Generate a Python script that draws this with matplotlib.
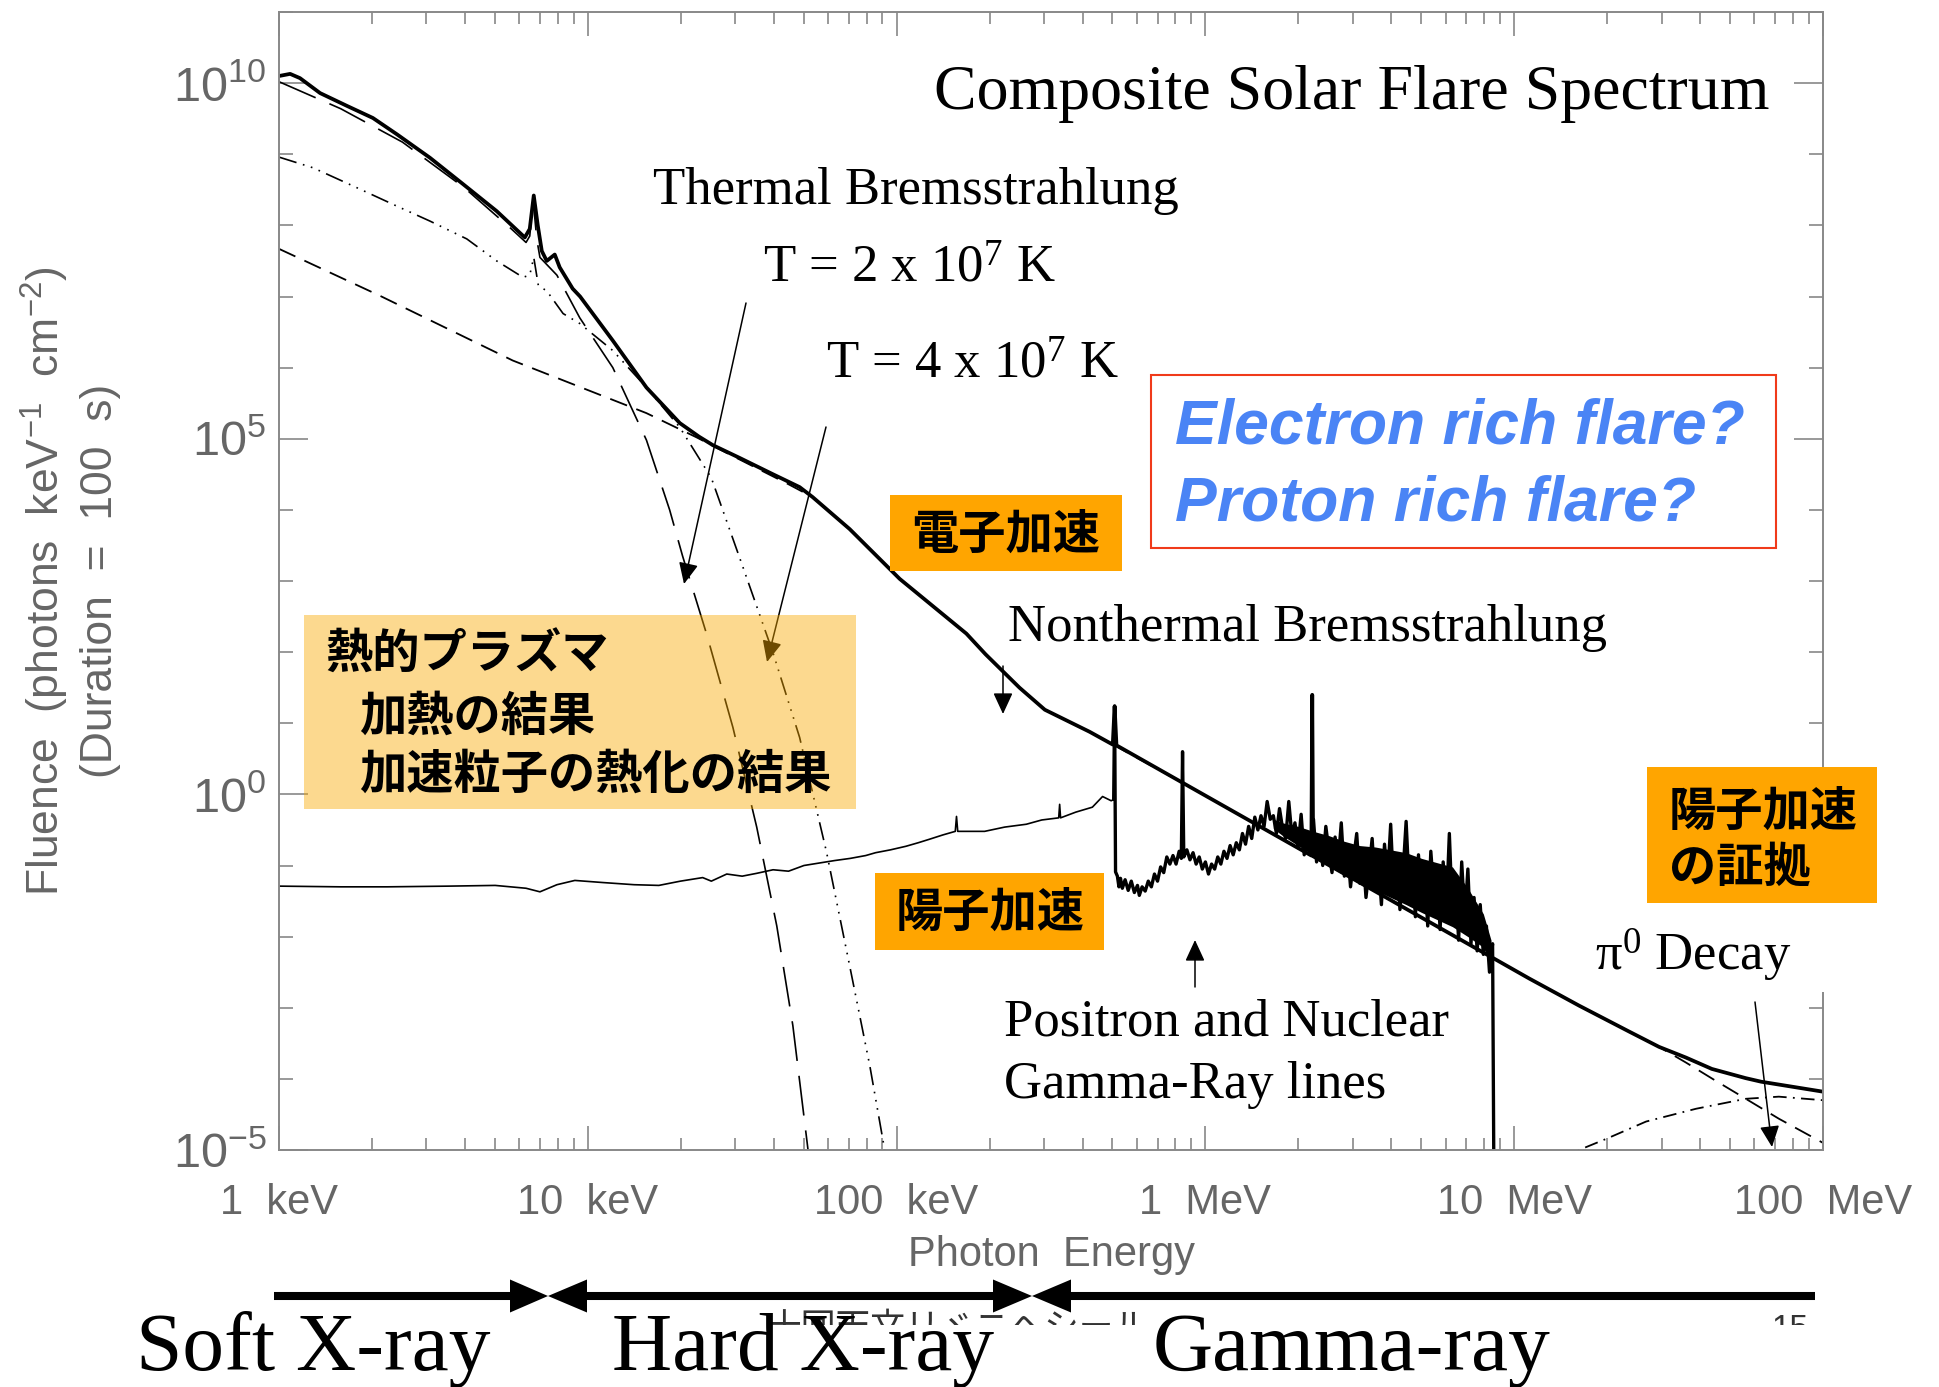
import numpy as np
import matplotlib
matplotlib.use('Agg')
import matplotlib.pyplot as plt
from matplotlib.patches import Rectangle, Polygon, FancyArrowPatch
from matplotlib.lines import Line2D
from matplotlib.ticker import FixedLocator, FixedFormatter, LogLocator, NullFormatter

plt.rcParams['mathtext.default'] = 'regular'

# all curves as log10(E / keV), log10(fluence)
total_logE = [0.0, 0.036, 0.068, 0.133, 0.22, 0.304, 0.382, 0.489, 0.596, 0.705, 0.796, 0.812, 0.825, 0.838,
              0.851, 0.867, 0.893, 0.909, 0.951, 0.975, 1.081, 1.19, 1.298, 1.36, 1.405, 1.492, 1.60, 1.686, 1.728,
              1.848, 2.01, 2.226, 2.288, 2.398, 2.48, 2.625, 2.700, 2.706, 2.712, 2.948, 3.343, 3.346, 3.349,
              3.919, 4.049, 4.155, 4.21, 4.37, 4.469, 4.556, 4.64, 4.75, 4.80, 4.90, 5.0]
total_logF = [10.10, 10.13, 10.07, 9.86, 9.68, 9.51, 9.28, 8.95, 8.58, 8.20, 7.83, 7.95, 8.42, 8.00,
              7.64, 7.50, 7.59, 7.41, 7.11, 7.00, 6.38, 5.72, 5.22, 5.03, 4.91, 4.73, 4.50, 4.32, 4.18,
              3.73, 3.03, 2.26, 1.97, 1.50, 1.19, 0.88, 0.70, 1.24, 0.69, 0.11, -0.86, 1.40, -0.87,
              -2.27, -2.59, -2.84, -2.97, -3.33, -3.55, -3.70, -3.86, -3.99, -4.04, -4.11, -4.18]

# thermal, T = 2e7 K
t2_logE = [0.0, 0.2, 0.4, 0.6, 0.75, 0.8, 0.812, 0.823, 0.835, 0.845, 0.9, 0.974, 1.081, 1.19, 1.265,
           1.307, 1.385, 1.47, 1.547, 1.612, 1.664, 1.709, 1.73]
t2_logF = [10.02, 9.64, 9.17, 8.53, 7.96, 7.76, 7.85, 8.35, 7.80, 7.55, 7.30, 6.70, 6.0, 4.98, 4.0,
           3.35, 2.25, 0.94, -0.46, -1.85, -3.25, -4.85, -5.6]

# thermal, T = 4e7 K
t4_logE = [0.0, 0.11, 0.252, 0.382, 0.489, 0.608, 0.705, 0.79, 0.812, 0.825, 0.84, 0.867, 0.92, 0.974,
           1.081, 1.19, 1.298, 1.40, 1.502, 1.599, 1.686, 1.773, 1.848, 1.913, 1.961, 1.98]
t4_logF = [8.96, 8.81, 8.53, 8.27, 8.06, 7.81, 7.50, 7.27, 7.30, 7.55, 7.15, 7.08, 6.76, 6.62,
           6.24, 5.72, 5.16, 4.45, 3.20, 2.00, 0.80, -0.81, -2.41, -3.81, -4.99, -5.5]

# nonthermal bremsstrahlung
nt_logE = [0.0, 0.327, 0.757, 1.19, 1.352, 1.45, 1.55, 1.65, 1.728, 1.848, 2.01, 2.226, 2.288, 2.398,
           2.48, 2.625, 2.948, 3.346, 3.919, 4.049, 4.155, 4.21, 4.37, 4.469, 4.556, 4.65, 4.75, 4.857, 5.0]
nt_logF = [7.67, 7.01, 6.10, 5.36, 5.02, 4.80, 4.58, 4.36, 4.18, 3.73, 3.03, 2.26, 1.97, 1.50,
           1.19, 0.88, 0.11, -0.87, -2.27, -2.59, -2.84, -2.97, -3.33, -3.55, -3.77, -4.02, -4.28, -4.56, -4.90]

# pi0 decay
pi_logE = [4.15, 4.21, 4.30, 4.427, 4.589, 4.75, 4.857, 5.0]
pi_logF = [-5.15, -5.0, -4.84, -4.60, -4.42, -4.28, -4.25, -4.30]

# proton component below the 511 keV line
nucl_logE = [0.0, 0.2, 0.35, 0.55, 0.70, 0.80, 0.845, 0.90, 0.958, 1.05, 1.15, 1.23, 1.30, 1.372, 1.40,
             1.45, 1.50, 1.547, 1.60, 1.65, 1.70, 1.757, 1.80, 1.85, 1.90, 1.932, 1.98, 2.03, 2.07, 2.107,
             2.15, 2.19, 2.194, 2.198, 2.25, 2.285, 2.35, 2.42, 2.47, 2.525, 2.528, 2.531, 2.58, 2.634,
             2.667, 2.695, 2.703]
nucl_logF = [-1.29, -1.30, -1.30, -1.29, -1.28, -1.32, -1.37, -1.27, -1.21, -1.24, -1.27, -1.28, -1.22, -1.17, -1.22,
             -1.12, -1.15, -1.11, -1.06, -1.08, -1.00, -0.96, -0.93, -0.90, -0.86, -0.82, -0.78, -0.73, -0.68, -0.63,
             -0.57, -0.52, -0.31, -0.52, -0.52, -0.52, -0.46, -0.42, -0.36, -0.33, -0.14, -0.33, -0.25, -0.18,
             -0.03, -0.09, -0.07]

# positron and nuclear gamma-ray lines
nuch_logE = [2.703, 2.706, 2.709,
             2.715, 2.72, 2.725, 2.731, 2.74, 2.75, 2.76, 2.77, 2.78, 2.786, 2.795, 2.805, 2.815, 2.825,
             2.835, 2.845, 2.855, 2.865, 2.875, 2.885, 2.895, 2.905, 2.915, 2.922, 2.926, 2.93, 2.94, 2.95,
             2.96, 2.97, 2.98, 2.99, 3.0, 3.01, 3.02, 3.03, 3.04, 3.05, 3.06, 3.07, 3.08, 3.09, 3.10, 3.11,
             3.12, 3.13, 3.14, 3.15, 3.16, 3.17, 3.18, 3.19, 3.20, 3.21,
             3.22, 3.23, 3.24, 3.25, 3.26, 3.27, 3.28, 3.29, 3.30, 3.31, 3.32, 3.33, 3.34, 3.35, 3.36,
             3.37, 3.38, 3.39, 3.40, 3.41, 3.42, 3.43, 3.44, 3.45, 3.46, 3.47, 3.48, 3.49, 3.50, 3.51,
             3.52, 3.53, 3.54, 3.55, 3.56, 3.57, 3.58, 3.59, 3.60, 3.61, 3.62, 3.63, 3.64, 3.65, 3.66,
             3.67, 3.68, 3.69, 3.70, 3.71, 3.72, 3.73, 3.74, 3.75, 3.76, 3.77, 3.78, 3.79, 3.80, 3.81,
             3.82, 3.83, 3.84, 3.85, 3.86, 3.87, 3.88, 3.89, 3.90, 3.91, 3.92, 3.93, 3.935]
nuch_logF = [-0.07, 1.24, -1.09,
             -1.15, -1.30, -1.18, -1.32, -1.20, -1.35, -1.22, -1.38, -1.28, -1.42, -1.30, -1.36, -1.22, -1.30,
             -1.12, -1.22, -1.02, -1.10, -0.88, -0.98, -0.86, -0.98, -0.80, -0.90, 0.60, -0.88, -0.78, -0.92,
             -0.82, -0.98, -0.88, -1.05, -0.95, -1.12, -0.98, -1.05, -0.88, -0.98, -0.80, -0.90, -0.72, -0.85, -0.68, -0.78,
             -0.55, -0.70, -0.45, -0.62, -0.32, -0.50, -0.30, -0.45, -0.10, -0.35,
             -0.30, -0.55, -0.20, -0.48, -0.62, -0.10, -0.58, -0.40, -0.75, -0.28, -0.85, -0.55, -0.70, -0.35, -0.95,
             -0.62, -1.00, -0.45, -0.80, -1.10, -0.60, -0.95, -0.40, -1.15, -0.75, -1.30, -0.90, -0.55, -1.25, -0.80,
             -1.45, -1.05, -0.62, -1.35, -0.95, -1.55, -0.70, -1.20, -0.42, -1.40, -0.88, -1.62, -1.10, -0.38, -1.30,
             -0.90, -1.72, -0.85, -1.50, -1.10, -1.85, -0.80, -1.40, -1.05, -1.90, -0.95, -1.65, -0.55, -1.70, -1.20,
             -2.05, -0.95, -1.75, -1.05, -2.10, -1.45, -2.20, -1.55, -2.25, -1.85, -2.50, -2.10, -6.0]

# dense part of the line forest (inner envelope)
band_logE = [3.22, 3.25, 3.30, 3.35, 3.40, 3.45, 3.50, 3.55, 3.60, 3.65, 3.70, 3.75, 3.80, 3.85, 3.90, 3.925]
band_hi = [-0.35, -0.40, -0.45, -0.52, -0.58, -0.66, -0.72, -0.74, -0.78, -0.82, -0.90, -0.96, -1.02, -1.32, -1.68, -2.05]
band_lo = [-0.48, -0.58, -0.72, -0.86, -1.00, -1.12, -1.25, -1.35, -1.45, -1.55, -1.66, -1.76, -1.86, -2.00, -2.15, -2.40]

xtick_pos = [1, 10, 100, 1e3, 1e4, 1e5]
xtick_labels = ['1  keV', '10  keV', '100  keV', '1  MeV', '10  MeV', '100  MeV']
ytick_pos = [1e-5, 1e0, 1e5, 1e10]
ytick_labels = ['$10^{-5}$', '$10^{0}$', '$10^{5}$', '$10^{10}$']

W, H = 1939, 1387
SANS = ['Liberation Sans Narrow', 'Liberation Sans', 'DejaVu Sans']
SERIF = ['Liberation Serif', 'DejaVu Serif']
JP = ['Noto Sans CJK JP', 'DejaVu Sans']
GRAY = '#666666'


def fx(x):
    return x / W


def fy(y):
    return 1 - y / H


def rect(x0, y0, x1, y1, **kw):
    r = Rectangle((fx(x0), fy(y1)), (x1 - x0) / W, (y1 - y0) / H, transform=fig.transFigure, **kw)
    fig.add_artist(r)


def arrow(x0, y0, x1, y1, color='k', z=2):
    a = FancyArrowPatch((fx(x0), fy(y0)), (fx(x1), fy(y1)), transform=fig.transFigure,
                        arrowstyle='-|>,head_length=1.3,head_width=0.6', mutation_scale=10,
                        lw=1.1, color=color, shrinkA=0, shrinkB=0, zorder=z)
    fig.add_artist(a)


def txt(x, y, s, **kw):
    fig.text(fx(x), fy(y), s, **kw)


fig = plt.figure(figsize=(W / 100, H / 100), dpi=100)
ax = fig.add_axes([fx(279), fy(1150), (1823 - 279) / W, (1150 - 12) / H])


def curve(le, lf, **kw):
    ax.plot(10 ** np.array(le), 10 ** np.array(lf), color='k', **kw)


curve(nt_logE, nt_logF, lw=1.3, dashes=(10, 5.5))
curve(t2_logE, t2_logF, lw=1.2, dashes=(24, 9))
curve(t4_logE, t4_logF, lw=1.2, dashes=(11, 4, 1, 4, 1, 4, 1, 4))
curve(pi_logE, pi_logF, lw=1.3, dashes=(7.5, 3.5, 1, 3.5))
ax.fill_between(10 ** np.array(band_logE), 10 ** np.array(band_lo), 10 ** np.array(band_hi),
                color='k', lw=0)
curve(nucl_logE, nucl_logF, lw=1.2)
curve(nuch_logE, nuch_logF, lw=2.4)
curve(total_logE, total_logF, lw=2.7)

ax.set_xscale('log')
ax.set_yscale('log')
ax.set_xlim(1, 1e5)
ax.set_ylim(1e-5, 1e11)
ax.xaxis.set_major_locator(FixedLocator(xtick_pos))
ax.xaxis.set_major_formatter(FixedFormatter(xtick_labels))
ax.xaxis.set_minor_locator(LogLocator(base=10, subs=np.arange(2, 10), numticks=30))
ax.xaxis.set_minor_formatter(NullFormatter())
ax.yaxis.set_major_locator(FixedLocator(ytick_pos))
ax.yaxis.set_major_formatter(FixedFormatter(ytick_labels))
ax.yaxis.set_minor_locator(LogLocator(base=10, subs=(1.0,), numticks=40))
ax.yaxis.set_minor_formatter(NullFormatter())

for s in ax.spines.values():
    s.set_color('#888888')
    s.set_linewidth(1.4)
ax.tick_params(which='both', direction='in', top=True, right=True, color='#888888',
               labelcolor=GRAY, width=1.2)
ax.tick_params(axis='x', which='major', length=17, pad=24, labelsize=30)
ax.tick_params(axis='x', which='minor', length=8.5)
ax.tick_params(axis='y', which='major', length=21, pad=9, labelsize=35)
ax.tick_params(axis='y', which='minor', length=10)
for lab in ax.get_xticklabels() + ax.get_yticklabels():
    lab.set_family(SANS)

ax.set_xlabel('Photon  Energy', fontsize=30, color=GRAY, family=SANS, va='center')
ax.xaxis.set_label_coords(0.5, -(1255 - 1150) / (1150 - 12))
ax.set_ylabel('Fluence  (photons  keV$^{-1}$  cm$^{-2}$)\n(Duration  =  100  s)', fontsize=32,
              color=GRAY, family=SANS, va='center', ha='center', linespacing=1.3)
ax.yaxis.set_label_coords((70 - 279) / (1823 - 279), 0.5)

# labels on the plot
txt(934, 109, 'Composite Solar Flare Spectrum', fontsize=46, family=SERIF, va='baseline', zorder=3)
txt(653, 204, 'Thermal Bremsstrahlung', fontsize=38, family=SERIF, va='baseline', zorder=3)
txt(763, 282, 'T = 2 x 10$^7$ K', fontsize=38, family=SERIF, va='baseline', zorder=3)
txt(826, 378, 'T = 4 x 10$^7$ K', fontsize=38, family=SERIF, va='baseline', zorder=3)
txt(1008, 641, 'Nonthermal Bremsstrahlung', fontsize=38, family=SERIF, va='baseline', zorder=3)
txt(1004, 1035, 'Positron and Nuclear', fontsize=38, family=SERIF, va='baseline', zorder=3)
txt(1004, 1098, 'Gamma-Ray lines', fontsize=38, family=SERIF, va='baseline', zorder=3)

arrow(746, 303, 684, 584)
arrow(826, 427, 767, 662, z=0.8)
arrow(1003, 666, 1003, 714)
arrow(1195, 987, 1195, 940)
arrow(1755, 1002, 1772, 1147)

# thermal plasma note (translucent)
rect(304, 615, 856, 809, facecolor='#FAAA00', alpha=0.44, edgecolor='none', zorder=1)
jp = dict(fontsize=34, family=JP, weight='bold', va='center', zorder=3)
txt(325, 655, '熱的プラズマ', **jp)
txt(359, 717, '加熱の結果', **jp)
txt(359, 775, '加速粒子の熱化の結果', **jp)

rect(890, 495, 1122, 571, facecolor='#FFA500', edgecolor='none', zorder=2)
txt(1006, 535, '電子加速', ha='center', **jp)
rect(875, 873, 1104, 950, facecolor='#FFA500', edgecolor='none', zorder=2)
txt(990, 913, '陽子加速', ha='center', **jp)
rect(1647, 767, 1877, 903, facecolor='#FFA500', edgecolor='none', zorder=2)
txt(1669, 812, '陽子加速', **jp)
txt(1669, 868, 'の証拠', **jp)

rect(1580, 903, 1845, 992, facecolor='white', edgecolor='none', zorder=2)
txt(1595, 971, '$\\pi^0$ Decay', fontsize=38, family=SERIF, va='baseline', zorder=3)

rect(1151, 375, 1776, 548, facecolor='white', edgecolor='#F03A1A', lw=1.5, zorder=2)
txt(1175, 444, 'Electron rich flare?', fontsize=45, family=['Liberation Sans', 'DejaVu Sans'],
    weight='bold', style='italic', color='#4A84F5', va='baseline', zorder=3)
txt(1175, 521, 'Proton rich flare?', fontsize=45, family=['Liberation Sans', 'DejaVu Sans'],
    weight='bold', style='italic', color='#4A84F5', va='baseline', zorder=3)

# slide footer, mostly hidden
txt(766, 1338, '十回天文リヾニヘシール', fontsize=25, family=JP, color='#333333', va='baseline', zorder=1)
txt(1772, 1338, '15', fontsize=24, family=SANS, color='#333333', va='baseline', zorder=1)
rect(600, 1325, 1939, 1387, facecolor='white', edgecolor='none', zorder=1.5)

# energy band arrows
yb = 1296
for x0, x1 in [(274, 512), (585, 995), (1069, 1815)]:
    fig.add_artist(Line2D([fx(x0), fx(x1)], [fy(yb), fy(yb)], transform=fig.transFigure,
                          color='k', lw=5.8, solid_capstyle='butt', zorder=3))
for xb, xt in [(510, 548), (587, 548), (993, 1032), (1071, 1032)]:
    fig.add_artist(Polygon([(fx(xb), fy(yb - 16.5)), (fx(xt), fy(yb)), (fx(xb), fy(yb + 16.5))],
                           closed=True, transform=fig.transFigure, facecolor='k', edgecolor='none', zorder=3))

txt(136, 1370, 'Soft X-ray', fontsize=60, family=SERIF, va='baseline', zorder=3)
txt(612, 1370, 'Hard X-ray', fontsize=60, family=SERIF, va='baseline', zorder=3)
txt(1153, 1370, 'Gamma-ray', fontsize=60, family=SERIF, va='baseline', zorder=3)

fig.savefig('out.png', dpi=100)
